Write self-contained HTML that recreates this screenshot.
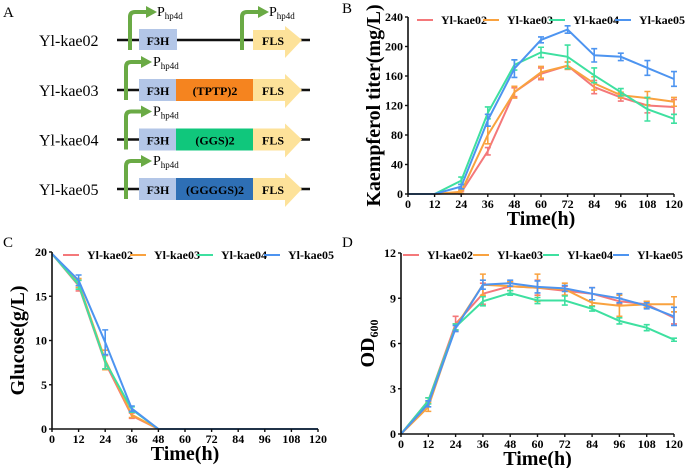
<!DOCTYPE html>
<html><head><meta charset="utf-8">
<style>
html,body{margin:0;padding:0;background:#fff;}
svg{display:block;font-family:"Liberation Serif",serif;}
</style></head>
<body>
<svg id="fig" width="685" height="468" viewBox="0 0 685 468" xmlns="http://www.w3.org/2000/svg">
  <g>
    <text x="3" y="17" font-size="15">A</text>
    <g>
      <text x="39" y="46" font-size="16">Yl-kae02</text>
      <line x1="117" y1="40" x2="310" y2="40" stroke="#111" stroke-width="2.5"/>
      <rect x="139" y="29" width="38" height="21" fill="#b3c6e7"/>
      <text x="158" y="45" font-size="12" font-weight="bold" text-anchor="middle">F3H</text>
      <polygon points="253,30 285,30 285,26 302,40 285,58 285,50 253,50" fill="#fde29a"/>
      <text x="273" y="45" font-size="12" font-weight="bold" text-anchor="middle">FLS</text>
      <path d="M130,50 V17 Q130,12 135,12 H148" fill="none" stroke="#6aaa45" stroke-width="4"/>
      <polygon points="146,6 157,12 146,18" fill="#6aaa45"/>
      <text x="157" y="16" font-size="14">P<tspan font-size="9" dy="3">hp4d</tspan></text>
      <path d="M242,50 V17 Q242,12 247,12 H260" fill="none" stroke="#6aaa45" stroke-width="4"/>
      <polygon points="258,6 269,12 258,18" fill="#6aaa45"/>
      <text x="269" y="16" font-size="14">P<tspan font-size="9" dy="3">hp4d</tspan></text>
    </g>
    <g id="rowsA"></g>
  </g>
  <g id="panelB"></g>
  <g id="panelC"></g>
  <g id="panelD"></g>
</svg>
<script>
const NS="http://www.w3.org/2000/svg";
function mk(p,t,a,txt){const e=document.createElementNS(NS,t);for(const k in a)e.setAttribute(k,a[k]);if(txt!==undefined)e.textContent=txt;p.appendChild(e);return e;}

const rowNames=["Yl-kae03","Yl-kae04","Yl-kae05"];
const linkers=["(TPTP)2","(GGS)2","(GGGGS)2"];
const linkerColors=["#f5841f","#10c77c","#2e6fb5"];
const rowsA=document.getElementById('rowsA');
rowNames.forEach((n,i)=>{
  const cy=90+i*49.5;
  const g=mk(rowsA,'g',{});
  
  
  mk(g,'text',{x:39,y:cy+6,'font-size':16},n);
  mk(g,'line',{x1:117,y1:cy,x2:310,y2:cy,stroke:'#111','stroke-width':2.5});
  mk(g,'rect',{x:139,y:cy-11,width:38,height:22,fill:'#b3c6e7'});
  mk(g,'text',{x:158,y:cy+5,'font-size':12,'font-weight':'bold','text-anchor':'middle'},'F3H');
  mk(g,'rect',{x:176,y:cy-11,width:78,height:22,fill:linkerColors[i]});
  mk(g,'text',{x:215,y:cy+5,'font-size':12,'font-weight':'bold','text-anchor':'middle'},linkers[i]);
  mk(g,'polygon',{points:`253,${cy-11} 285,${cy-11} 285,${cy-16} 302,${cy} 285,${cy+18} 285,${cy+11} 253,${cy+11}`,fill:'#fde29a'});
  mk(g,'text',{x:273,y:cy+5,'font-size':12,'font-weight':'bold','text-anchor':'middle'},'FLS');
  mk(g,'path',{d:`M126,${cy+10} V${cy-23} Q126,${cy-28} 131,${cy-28} H143`,fill:'none',stroke:'#6aaa45','stroke-width':4});
  mk(g,'polygon',{points:`141,${cy-34} 152,${cy-28} 141,${cy-22}`,fill:'#6aaa45'});
  const t=mk(g,'text',{x:153,y:cy-24,'font-size':14},'P');
  mk(t,'tspan',{'font-size':9,dy:3},'hp4d');
});

const times=[0,12,24,36,48,60,72,84,96,108,120];
const seriesNames=["Yl-kae02","Yl-kae03","Yl-kae04","Yl-kae05"];
const colors=["#f4787a","#f9a23f","#3ee0a0","#4d94f0"];
const kaeB02=[0,0,2,58,138,163,174,145,131,120,118];
const kaeB03=[0,0,3,80,138,165,174,150,134,130,125];
const kaeB04=[0,0,18,110,175,192,186,161,138,115,102];
const kaeB05=[0,0,10,100,170,209,223,188,186,171,156];
const errB02=[0,0,2,5,6,8,5,9,5,10,10];
const errB03=[0,0,2,12,8,8,5,9,4,9,6];
const errB04=[0,0,5,8,7,7,16,10,5,16,6];
const errB05=[0,0,3,8,12,4,5,9,5,10,10];
const gluC02=[19.8,16.2,7.5,1.5,0,0,0,0,0,0,0];
const gluC03=[19.8,16.5,7.8,1.6,0,0,0,0,0,0,0];
const gluC04=[19.8,16.3,7.6,2.2,0,0,0,0,0,0,0];
const gluC05=[19.8,16.8,9.8,2.3,0,0,0,0,0,0,0];
const errC02=[0,0.6,0.8,0.3,0,0,0,0,0,0,0];
const errC03=[0,0.5,1.1,0.3,0,0,0,0,0,0,0];
const errC04=[0,0.5,0.8,0.3,0,0,0,0,0,0,0];
const errC05=[0,0.6,1.4,0.3,0,0,0,0,0,0,0];
const odD02=[0,2.2,7.3,9.3,9.8,9.7,9.5,9.3,8.8,8.6,7.7];
const odD03=[0,1.8,7.1,9.9,9.8,9.7,9.6,8.7,8.5,8.6,8.6];
const odD04=[0,2.2,7.1,8.8,9.35,8.85,8.85,8.3,7.5,7.05,6.25];
const odD05=[0,2.0,7.0,9.9,10.0,9.75,9.65,9.3,9.0,8.5,7.8];
const errD02=[0,0.2,0.5,0.7,0.3,0.5,0.3,0.4,0.2,0.2,0.4];
const errD03=[0,0.3,0.2,0.7,0.3,0.9,0.4,0.2,0.7,0.2,0.5];
const errD04=[0,0.2,0.2,0.3,0.15,0.2,0.3,0.15,0.2,0.2,0.1];
const errD05=[0,0.2,0.2,0.3,0.2,0.4,0.2,0.4,0.3,0.2,0.6];
const ticksB=[0,40,80,120,160,200,240];
const ticksC=[0,5,10,15,20];
const ticksD=[0,3,6,9,12];

function chart(gid,cfg){
  const g=document.getElementById(gid);
  const X=t=>cfg.x0+(t-0)/120*(cfg.x1-cfg.x0);
  const Y=v=>cfg.y0-(v-cfg.ymin)/(cfg.ymax-cfg.ymin)*(cfg.y0-cfg.y1);
  const lab=mk(g,'text',{x:cfg.lx,y:cfg.ly,'font-size':15},cfg.label);
  
  
  cfg.series.forEach((s,i)=>{
    const sg=mk(g,'g',{});
    
    
    const d=times.map((t,j)=>(j?'L':'M')+X(t).toFixed(1)+','+Y(s[j]).toFixed(1)).join(' ');
    mk(sg,'path',{d:d,fill:'none',stroke:colors[i],'stroke-width':2});
    times.forEach((t,j)=>{
      const e=cfg.err[i][j]; if(!e)return;
      const x=X(t),a=Y(s[j]+e),b=Y(Math.max(0,s[j]-e));
      const eb=mk(sg,'path',{d:`M${x},${a} V${b} M${x-3},${a} H${x+3} M${x-3},${b} H${x+3}`,stroke:colors[i],'stroke-width':1.6,fill:'none'});
      
      
    });
  });
  const ax=mk(g,'path',{d:`M${cfg.x0},${cfg.y1} V${cfg.y0} H${cfg.x1}`,fill:'none',stroke:'#111','stroke-width':1.6});
  
  
  times.forEach(t=>{
    mk(g,'line',{x1:X(t),y1:cfg.y0,x2:X(t),y2:cfg.y0+3,stroke:'#111','stroke-width':1.4});
    const tl=mk(g,'text',{x:X(t),y:cfg.y0+14,'font-size':12,'font-weight':'bold','text-anchor':'middle'},t);
    
    
  });
  cfg.ticks.forEach(v=>{
    mk(g,'line',{x1:cfg.x0-3,y1:Y(v),x2:cfg.x0,y2:Y(v),stroke:'#111','stroke-width':1.4});
    const tl=mk(g,'text',{x:cfg.x0-5,y:Y(v)+4,'font-size':12,'font-weight':'bold','text-anchor':'end'},v);
    
    
  });
  const xt=mk(g,'text',{x:(cfg.x0+cfg.x1)/2,y:cfg.y0+31,'font-size':20,'font-weight':'bold','text-anchor':'middle'},'Time(h)');
  
  
  const yt=mk(g,'text',{x:0,y:0,'font-size':20,'font-weight':'bold','text-anchor':'middle',transform:`translate(${cfg.ytx},${(cfg.y0+cfg.y1)/2}) rotate(-90)`},cfg.ytitle);
  if(cfg.ysub) mk(yt,'tspan',{'font-size':12,dy:4},cfg.ysub);
  
  
  seriesNames.forEach((n,i)=>{
    const lx=cfg.legx+i*cfg.legdx;
    const lg=mk(g,'g',{});
    
    
    mk(lg,'line',{x1:lx,y1:cfg.legy,x2:lx+16,y2:cfg.legy,stroke:colors[i],'stroke-width':2});
    mk(lg,'text',{x:lx+24,y:cfg.legy+4,'font-size':12,'font-weight':'bold'},n);
  });
}
chart('panelB',{label:'B',lx:342,ly:13,x0:408,x1:674,y0:194,y1:17,ymin:0,ymax:240,ticks:ticksB,
  series:[kaeB02,kaeB03,kaeB04,kaeB05],err:[errB02,errB03,errB04,errB05],
  ytitle:'Kaempferol titer(mg/L)',ytx:380,legx:417,legdx:66,legy:20});
chart('panelC',{label:'C',lx:3,ly:247,x0:52,x1:318,y0:429,y1:252,ymin:0,ymax:20,ticks:ticksC,
  series:[gluC02,gluC03,gluC04,gluC05],err:[errC02,errC03,errC04,errC05],
  ytitle:'Glucose(g/L)',ytx:24,legx:63,legdx:67,legy:255});
chart('panelD',{label:'D',lx:342,ly:247,x0:401,x1:674,y0:434,y1:253,ymin:0,ymax:12,ticks:ticksD,
  series:[odD02,odD03,odD04,odD05],err:[errD02,errD03,errD04,errD05],
  ytitle:'OD',ysub:'600',ytx:374,legx:403,legdx:70,legy:255});
</script>
</body></html>
